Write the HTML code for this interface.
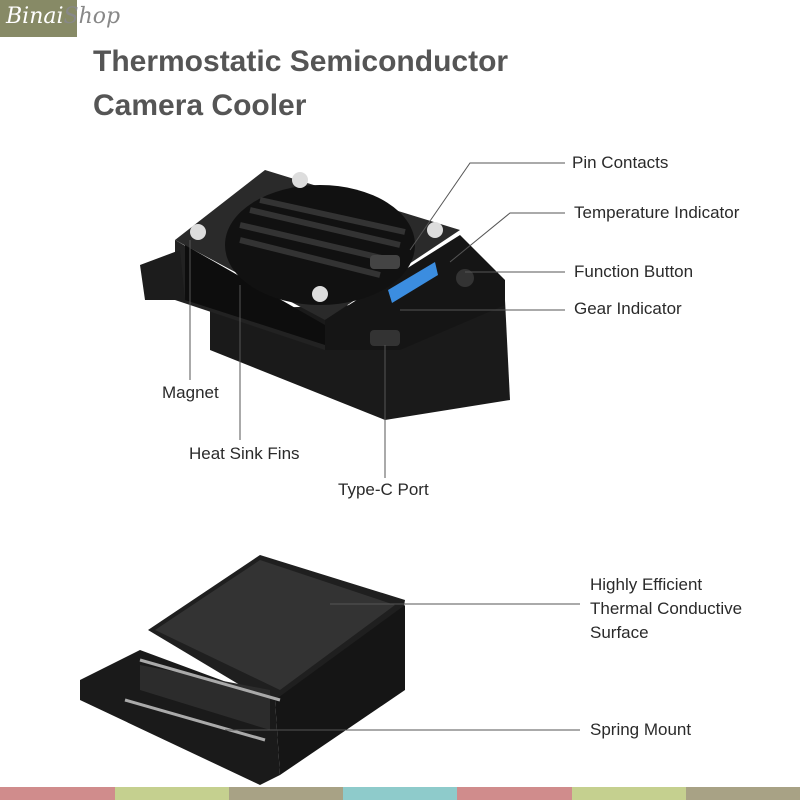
<!DOCTYPE html>
<html><head><style>
body{margin:0;width:800px;height:800px;background:#fff;overflow:hidden;position:relative;font-family:"Liberation Sans",sans-serif}
.t{position:absolute;color:#2a2a2a;font-size:17px}
</style></head><body>
<div style="position:absolute;left:0;top:0;width:77px;height:37px;background:#878a66"></div>
<div style="position:absolute;left:6px;top:4px;font-family:'DejaVu Serif',serif;font-style:italic;font-size:22px;color:#fff;white-space:nowrap">Binai<span style="color:#888">Shop</span></div>
<div style="position:absolute;left:93px;top:40px;font-size:30px;font-weight:bold;color:#555;line-height:44px">Thermostatic Semiconductor<br>Camera Cooler</div>
<svg width="800" height="800" style="position:absolute;left:0;top:0">
<polygon points="210,310 505,300 510,400 385,420 210,350" fill="#1a1a1a"/>
<polygon points="175,240 325,325 325,350 175,300" fill="#222"/>
<polygon points="140,265 180,250 185,300 145,300" fill="#1c1c1c"/>
<polygon points="175,240 265,170 460,230 325,320" fill="#2a2a2a"/>
<polygon points="325,320 460,235 505,280 505,305 400,350 325,350" fill="#151515"/>
<polygon points="185,245 325,325 325,345 185,300" fill="#0d0d0d"/>
<ellipse cx="320" cy="245" rx="95" ry="60" fill="#111"/>
<g stroke="#333" stroke-width="6">
<line x1="240" y1="225" x2="390" y2="260"/><line x1="250" y1="210" x2="400" y2="245"/><line x1="260" y1="200" x2="405" y2="232"/><line x1="240" y1="240" x2="380" y2="275"/>
</g>
<polygon points="388,290 435,262 438,275 392,303" fill="#3b8de0"/>
<rect x="370" y="330" width="30" height="16" rx="4" fill="#333"/>
<circle cx="465" cy="278" r="9" fill="#333"/>
<g fill="#ddd"><circle cx="198" cy="232" r="8"/><circle cx="300" cy="180" r="8"/><circle cx="435" cy="230" r="8"/><circle cx="320" cy="294" r="8"/></g>
<rect x="370" y="255" width="30" height="14" rx="4" fill="#444"/>
<g stroke="#555" stroke-width="1" fill="none">
<polyline points="565,163 470,163 410,250"/>
<polyline points="565,213 510,213 450,262"/>
<line x1="465" y1="272" x2="565" y2="272"/>
<line x1="400" y1="310" x2="565" y2="310"/>
<line x1="190" y1="240" x2="190" y2="380"/>
<line x1="240" y1="285" x2="240" y2="440"/>
<line x1="385" y1="345" x2="385" y2="478"/>
</g>
<polygon points="148,630 260,555 405,600 390,690 265,700" fill="#1f1f1f"/>
<polygon points="155,630 260,560 395,605 280,690" fill="#333"/>
<polygon points="80,680 140,650 275,700 280,775 260,785 80,700" fill="#1a1a1a"/>
<polygon points="275,700 405,605 405,690 280,775" fill="#151515"/>
<polygon points="140,665 270,690 270,730 140,690" fill="#2c2c2c"/>
<line x1="140" y1="660" x2="280" y2="700" stroke="#aaa" stroke-width="3"/>
<line x1="125" y1="700" x2="265" y2="740" stroke="#aaa" stroke-width="3"/>
<g stroke="#555" stroke-width="1"><line x1="330" y1="604" x2="580" y2="604"/><line x1="225" y1="730" x2="580" y2="730"/></g>
<rect x="0" y="787" width="115" height="13" fill="#d08c8c"/>
<rect x="115" y="787" width="114" height="13" fill="#c5d08f"/>
<rect x="229" y="787" width="114" height="13" fill="#a8a285"/>
<rect x="343" y="787" width="114" height="13" fill="#8ecbcb"/>
<rect x="457" y="787" width="115" height="13" fill="#d08c8c"/>
<rect x="572" y="787" width="114" height="13" fill="#c5d08f"/>
<rect x="686" y="787" width="114" height="13" fill="#a8a285"/>
</svg>
<div class="t" style="left:572px;top:153px">Pin Contacts</div>
<div class="t" style="left:574px;top:203px">Temperature Indicator</div>
<div class="t" style="left:574px;top:262px">Function Button</div>
<div class="t" style="left:574px;top:299px">Gear Indicator</div>
<div class="t" style="left:162px;top:383px">Magnet</div>
<div class="t" style="left:189px;top:444px">Heat Sink Fins</div>
<div class="t" style="left:338px;top:480px">Type-C Port</div>
<div class="t" style="left:590px;top:573px;line-height:24px">Highly Efficient<br>Thermal Conductive<br>Surface</div>
<div class="t" style="left:590px;top:720px">Spring Mount</div>
</body></html>
